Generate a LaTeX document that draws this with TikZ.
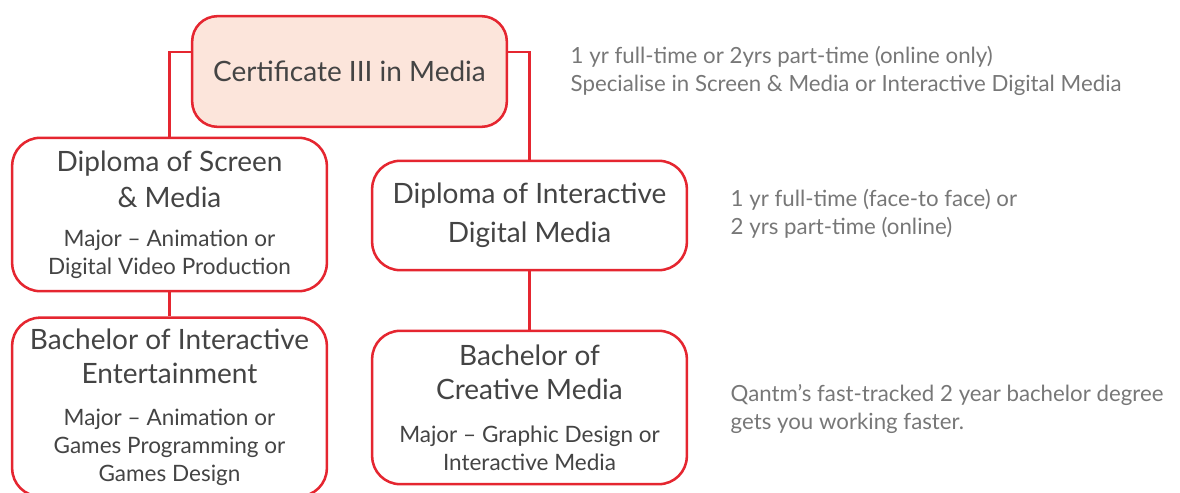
\documentclass[tikz,border=0pt]{standalone}
\usepackage{fontspec}
\setmainfont{Lato}
\usetikzlibrary{positioning}

\definecolor{boxred}{HTML}{E52630}
\definecolor{certfill}{HTML}{FCE5DB}
\definecolor{txtgrey}{HTML}{444444}
\definecolor{notegrey}{HTML}{777777}

\newcommand{\titlefont}{\fontsize{21}{26}\selectfont}
\newcommand{\majorfont}{\fontsize{16.9}{21}\selectfont}
\newcommand{\notefont}{\fontsize{16.7}{21}\selectfont}

\tikzset{
  course/.style={draw=boxred, line width=1.9pt, rounded corners=21pt, fill=white,
    minimum width=236pt, align=center, text=txtgrey, inner sep=0pt, font=\titlefont},
  note/.style={anchor=west, align=left, text=notegrey, font=\notefont},
  link/.style={draw=boxred, line width=1.9pt}
}

\begin{document}
\begin{tikzpicture}[x=0.75pt, y=-0.75pt]
  \clip (0,0) rectangle (1180,492);

  % course boxes
  \node[course, fill=certfill, rounded corners=19pt, minimum height=83pt] (cert) at (349.5,71.5)
    {Certificate III in Media};
  \node[course, minimum height=115pt] (dipscreen) at (169.5,214.5)
    {\rule{0pt}{6pt}Diploma of Screen\\[1pt] \& Media\\[3pt]
     \majorfont Major -- Animation or\\[-5pt] \majorfont Digital Video Production};
  \node[course, minimum height=82pt] (dipint) at (529.5,215.5)
    {Diploma of Interactive\\[3pt] Digital Media};
  \node[course, minimum height=134pt] (bachint) at (169.5,407)
    {\rule{0pt}{6pt}Bachelor of Interactive\\ Entertainment\\[5pt]
     \majorfont Major -- Animation or\\[-5pt] \majorfont Games Programming or\\[-5pt] \majorfont Games Design};
  \node[course, minimum height=115pt] (bachcre) at (529.5,407.5)
    {Bachelor of\\ Creative Media\\[6pt]
     \majorfont Major -- Graphic Design or\\[-5pt] \majorfont Interactive Media};

  % connectors
  \draw[link] ([yshift=14.6pt]cert.west) -| (dipscreen.north);
  \draw[link] ([yshift=14.6pt]cert.east) -| (dipint.north);
  \draw[link] (dipscreen.south) -- (bachint.north);
  \draw[link] (dipint.south) -- (bachcre.north);

  % notes
  \node[note] (certnote) at (566,71)
    {1 yr full-time or 2yrs part-time (online only)\\
     Specialise in Screen \& Media or Interactive Digital Media};
  \node[note] (dipnote) at (726,214)
    {1 yr full-time (face-to face) or\\ 2 yrs part-time (online)};
  \node[note] (bachnote) at (726,409)
    {Qantm’s fast-tracked 2 year bachelor degree\\ gets you working faster.};
\end{tikzpicture}
\end{document}
